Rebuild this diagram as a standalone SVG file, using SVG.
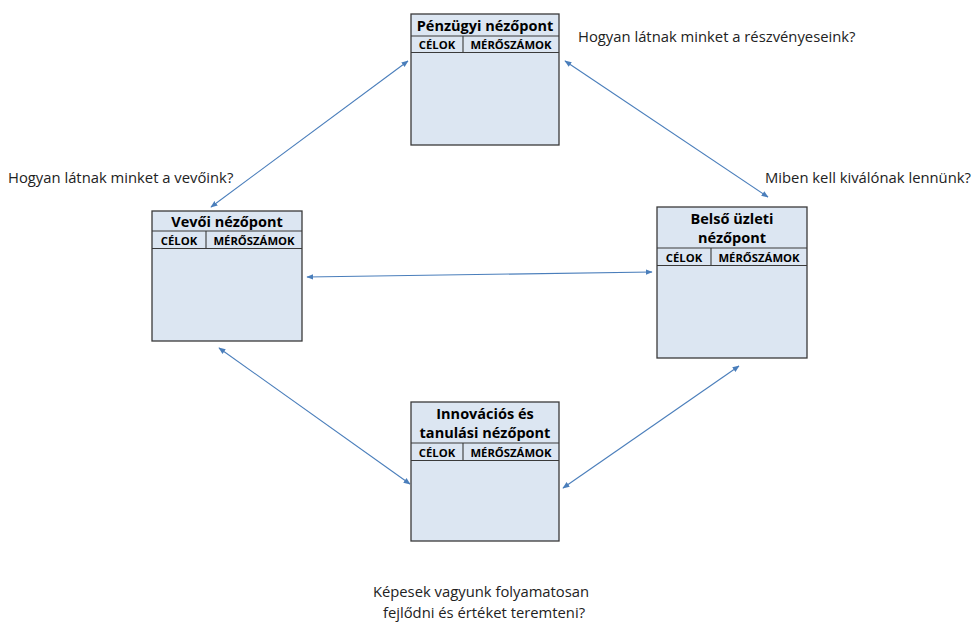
<svg xmlns="http://www.w3.org/2000/svg" width="975" height="625" viewBox="0 0 975 625">
<style>
.box{fill:#dce6f2;stroke:#3a3a3a;stroke-width:1.3}
.ln{stroke:#3a3a3a;stroke-width:1.1}
.t{font-family:"Open Sans","Liberation Sans",sans-serif;font-weight:bold;font-size:14.5px;fill:#000;text-anchor:middle}
.h{font-family:"Open Sans","Liberation Sans",sans-serif;font-weight:bold;font-size:11.3px;fill:#000;text-anchor:middle}
.q{font-family:"Open Sans","Liberation Sans",sans-serif;font-size:14.8px;fill:#222}
.c{stroke:#4a7ebb;stroke-width:1.1;fill:none;marker-start:url(#a);marker-end:url(#a)}
</style>
<defs>
<marker id="a" viewBox="0 0 10 10" refX="9" refY="5" markerWidth="7" markerHeight="7" orient="auto-start-reverse" markerUnits="userSpaceOnUse">
<path d="M0,1 L10,5 L0,9 z" fill="#4a7ebb"/>
</marker>
</defs>
<rect width="975" height="625" fill="#fff"/>
<g id="connectors">
<line class="c" x1="408" y1="61" x2="211" y2="207"/>
<line class="c" x1="565" y1="61" x2="768" y2="197"/>
<line class="c" x1="307" y1="277" x2="652" y2="272"/>
<line class="c" x1="219" y1="348" x2="410" y2="484"/>
<line class="c" x1="739" y1="366" x2="563" y2="488"/>
</g>
<g id="penzugyi">
<rect class="box" x="411" y="14" width="148" height="131"/>
<line class="ln" x1="411" y1="36" x2="559" y2="36"/>
<line class="ln" x1="411" y1="52.5" x2="559" y2="52.5"/>
<line class="ln" x1="463" y1="36" x2="463" y2="52.5"/>
<text class="t" x="485" y="30.5">Pénzügyi nézőpont</text>
<text class="h" x="437" y="48.5">CÉLOK</text>
<text class="h" x="511" y="48.5">MÉRŐSZÁMOK</text>
</g>
<g id="vevoi">
<rect class="box" x="152" y="211" width="150" height="130"/>
<line class="ln" x1="152" y1="231" x2="302" y2="231"/>
<line class="ln" x1="152" y1="248.5" x2="302" y2="248.5"/>
<line class="ln" x1="206" y1="231" x2="206" y2="248.5"/>
<text class="t" x="227" y="227">Vevői nézőpont</text>
<text class="h" x="179" y="244.5">CÉLOK</text>
<text class="h" x="254" y="244.5">MÉRŐSZÁMOK</text>
</g>
<g id="belso">
<rect class="box" x="657" y="207" width="150" height="151"/>
<line class="ln" x1="657" y1="248" x2="807" y2="248"/>
<line class="ln" x1="657" y1="265.5" x2="807" y2="265.5"/>
<line class="ln" x1="711" y1="248" x2="711" y2="265.5"/>
<text class="t" x="732" y="224">Belső üzleti</text>
<text class="t" x="732" y="243">nézőpont</text>
<text class="h" x="684" y="261.5">CÉLOK</text>
<text class="h" x="759" y="261.5">MÉRŐSZÁMOK</text>
</g>
<g id="innovacios">
<rect class="box" x="411" y="402" width="148" height="139"/>
<line class="ln" x1="411" y1="443" x2="559" y2="443"/>
<line class="ln" x1="411" y1="460.5" x2="559" y2="460.5"/>
<line class="ln" x1="463" y1="443" x2="463" y2="460.5"/>
<text class="t" x="485" y="419">Innovációs és</text>
<text class="t" x="485" y="438">tanulási nézőpont</text>
<text class="h" x="437" y="456.5">CÉLOK</text>
<text class="h" x="511" y="456.5">MÉRŐSZÁMOK</text>
</g>
<g id="labels">
<text class="q" x="578" y="42">Hogyan látnak minket a részvényeseink?</text>
<text class="q" x="8" y="183">Hogyan látnak minket a vevőink?</text>
<text class="q" x="765" y="183">Miben kell kiválónak lennünk?</text>
<text class="q" x="481" y="597" text-anchor="middle">Képesek vagyunk folyamatosan</text>
<text class="q" x="484" y="618" text-anchor="middle">fejlődni és értéket teremteni?</text>
</g>
</svg>
